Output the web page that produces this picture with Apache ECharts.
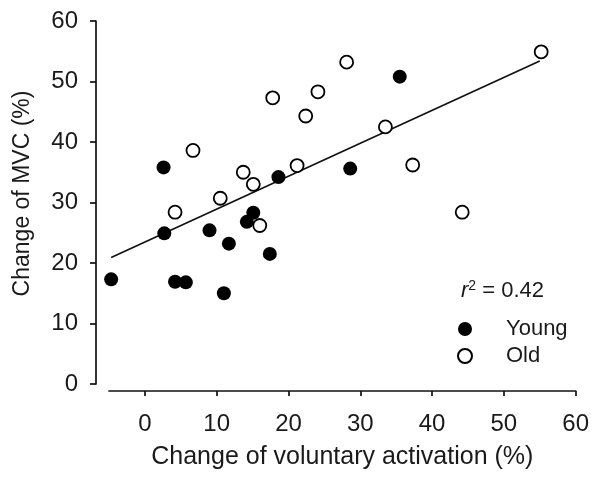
<!DOCTYPE html>
<html>
<head>
<meta charset="utf-8">
<script src="https://cdn.jsdelivr.net/npm/echarts@6/dist/echarts.min.js"></script>
<style>
  html, body { margin: 0; padding: 0; background: #fff; }
  #chart { width: 592px; height: 478px; }
</style>
</head>
<body>
<div id="chart"></div>
<script>
// 数据：值
const youngX = [-4.7, 2.6, 2.7, 4.2, 5.7, 9.0, 11.0, 11.7, 14.2, 15.1, 17.4, 18.6, 28.6, 35.5]
const youngY = [17.3, 35.8, 24.9, 16.9, 16.8, 25.4, 15.0, 23.2, 26.8, 28.3, 21.5, 34.2, 35.6, 50.8]
const oldX = [4.2, 6.7, 10.5, 13.7, 15.1, 16.0, 17.8, 21.2, 22.4, 24.1, 28.1, 33.5, 37.3, 44.2, 55.2]
const oldY = [28.4, 38.6, 30.7, 35.0, 33.0, 26.2, 47.3, 36.1, 44.3, 48.3, 53.2, 42.5, 36.2, 28.4, 54.9]
// 回归线两端
const fitX = [-4.7, 55.0]
const fitY = [20.9, 53.4]
// 刻度
const xTicks = [0, 10, 20, 30, 40, 50, 60]
const rSquared = '0.42'

const FONT = 'Liberation Sans, Arial, sans-serif'
const INK = '#111'
const TEXT = '#1a1a1a'

function pairs(xs, ys) {
  return xs.map((x, i) => [x, ys[i]])
}

const chart = echarts.init(document.getElementById('chart'), null, { renderer: 'canvas' })

const option = {
  animation: false,
  textStyle: { fontFamily: FONT },
  grid: { left: 109, right: 16, top: 21, bottom: 94, containLabel: false },
  xAxis: {
    type: 'value',
    min: -5,
    max: 60,
    offset: 7,
    splitLine: { show: false },
    axisLine: { show: true, onZero: false, lineStyle: { color: INK, width: 1.7 } },
    axisTick: { show: true, length: 5, customValues: xTicks, lineStyle: { color: INK, width: 1.7 } },
    axisLabel: { customValues: xTicks, margin: 21, fontSize: 24, color: TEXT, fontFamily: FONT },
    name: 'Change of voluntary activation (%)',
    nameLocation: 'middle',
    nameGap: 54,
    nameTextStyle: { fontSize: 25, color: TEXT, fontFamily: FONT }
  },
  yAxis: {
    type: 'value',
    min: 0,
    max: 60,
    interval: 10,
    offset: 13,
    splitLine: { show: false },
    axisLine: { show: true, onZero: false, lineStyle: { color: INK, width: 1.7 } },
    axisTick: { show: true, length: 6, lineStyle: { color: INK, width: 1.7 } },
    axisLabel: { margin: 18, fontSize: 24, color: TEXT, fontFamily: FONT },
    name: 'Change of MVC (%)',
    nameLocation: 'middle',
    nameGap: 62,
    nameTextStyle: { fontSize: 23, color: TEXT, fontFamily: FONT, padding: [0, 0, 0, 18] }
  },
  legend: {
    orient: 'vertical',
    left: 452,
    top: 313,
    itemWidth: 14,
    itemHeight: 14,
    itemGap: 5,
    textStyle: { fontSize: 22, color: TEXT, fontFamily: FONT, padding: [0, 0, 0, 29] },
    data: ['Young', 'Old']
  },
  graphic: [
    {
      type: 'text',
      left: 461,
      top: 279,
      style: {
        text: '{i|r}{s|2}{n| = ' + rSquared + '}',
        rich: {
          i: { fontSize: 22, fontStyle: 'italic', fontFamily: FONT, fill: TEXT },
          s: { fontSize: 14, fontFamily: FONT, fill: TEXT, verticalAlign: 'top', padding: [0, 0, 10, 0] },
          n: { fontSize: 22, fontFamily: FONT, fill: TEXT }
        }
      }
    }
  ],
  series: [
    {
      name: 'fit',
      type: 'line',
      data: pairs(fitX, fitY),
      showSymbol: false,
      z: 1,
      lineStyle: { color: INK, width: 1.7 }
    },
    {
      name: 'Young',
      type: 'scatter',
      data: pairs(youngX, youngY),
      symbol: 'circle',
      symbolSize: 14,
      z: 3,
      itemStyle: { color: '#000', borderColor: '#000', borderWidth: 0, opacity: 1 }
    },
    {
      name: 'Old',
      type: 'scatter',
      data: pairs(oldX, oldY),
      symbol: 'circle',
      symbolSize: 13,
      z: 3,
      itemStyle: { color: '#fff', borderColor: '#000', borderWidth: 1.8, opacity: 1 }
    }
  ]
}

chart.setOption(option)
</script>
</body>
</html>
